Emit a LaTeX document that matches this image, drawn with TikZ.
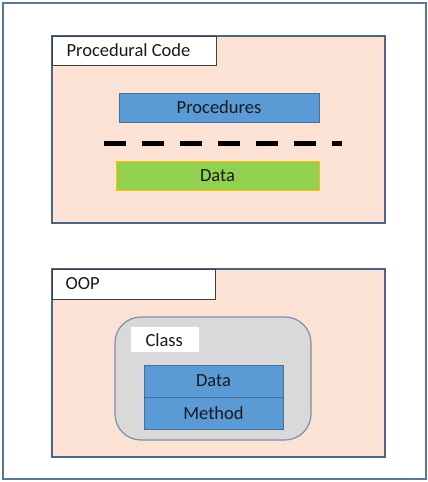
\documentclass[tikz,border=0pt]{standalone}
\usepackage{fontspec}
\setmainfont{Carlito}
\definecolor{peach}{HTML}{FBE2D5}
\definecolor{frameblue}{HTML}{5A7896}
\definecolor{panelline}{HTML}{4A6585}
\definecolor{accblue}{HTML}{5B9BD5}
\definecolor{accblueline}{HTML}{41719C}
\definecolor{leaf}{HTML}{92D050}
\definecolor{amber}{HTML}{FFC000}
\definecolor{classgray}{HTML}{D9D9D9}
\definecolor{classline}{HTML}{7F8FA6}
\definecolor{textdark}{HTML}{1A1A1A}
\tikzset{
  x=1pt, y=-1pt,
  every node/.style={font=\fontsize{18.5}{22}\selectfont, text=textdark},
  panel/.style={draw=panelline, line width=1.1pt, fill=peach},
  tag/.style={draw=black!75, line width=1pt, fill=white},
  bluebox/.style={draw=accblueline, line width=1pt, fill=accblue},
}
\begin{document}
\begin{tikzpicture}
\useasboundingbox (0,0) rectangle (428,482);
% outer frame
\draw[frameblue, line width=1.2pt] (3,3) rectangle (426,479);

% procedural panel
\draw[panel] (52,36) rectangle (385,223);
\draw[tag] (52,36) rectangle (216,65);
\node[anchor=west] (proctag) at (63,50) {Procedural Code};
\draw[bluebox] (119,93) rectangle (319,122);
\node (procs) at (219,107.5) {Procedures};
\draw[black, line width=5pt, dash pattern=on 22pt off 16pt] (104,143) -- (342,143);
\draw[draw=amber, line width=1pt, fill=leaf] (116,161) rectangle (319,190);
\node (pdata) at (217.5,175.5) {Data};

% object oriented panel
\draw[panel] (52,269) rectangle (385,457);
\draw[tag] (52,269) rectangle (215,299);
\node[anchor=west] (ooptag) at (62,284) {OOP};
\draw[draw=classline, line width=1.2pt, fill=classgray, rounded corners=26pt] (115,317) rectangle (311,440);
\fill[white] (131,327) rectangle (199,352);
\node[anchor=west] (classtag) at (142,340) {Class};
\draw[bluebox] (144,365) rectangle (283,397);
\node (cdata) at (213.5,381) {Data};
\draw[bluebox] (144,397) rectangle (283,429);
\node (cmethod) at (213.5,413) {Method};
\end{tikzpicture}
\end{document}
